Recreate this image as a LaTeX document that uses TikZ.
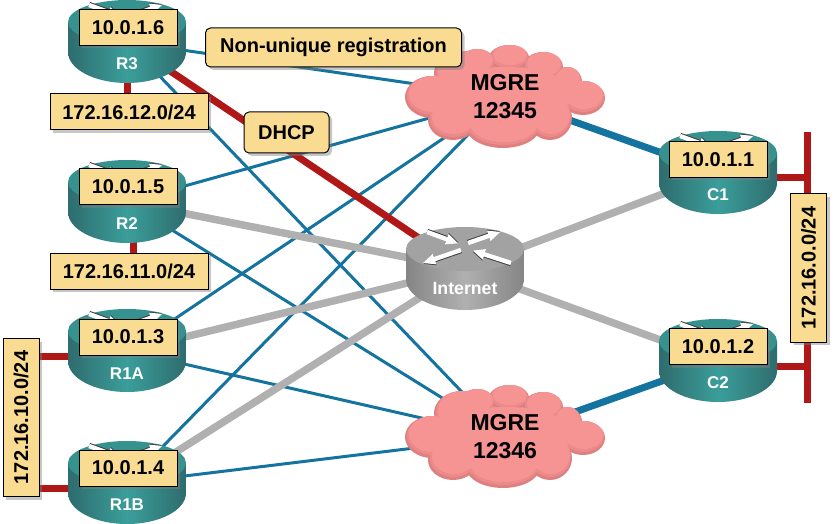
\documentclass[tikz,border=0pt]{standalone}
\usepackage{fontspec}
\setmainfont{Liberation Sans}
\usetikzlibrary{shadows,backgrounds}

\definecolor{tagfill}{HTML}{F9DC92}
\definecolor{linkblue}{HTML}{14749F}
\definecolor{linkred}{HTML}{B01818}
\definecolor{linkgray}{HTML}{B0B0B0}
\definecolor{tealdark}{HTML}{2F6C6E}
\definecolor{tealmid}{HTML}{3A9E9A}
\definecolor{tealtop}{HTML}{36928F}
\definecolor{graydark}{HTML}{858585}
\definecolor{graymid}{HTML}{B0B0B0}
\definecolor{graytop}{HTML}{A2A2A2}
\definecolor{cloudedge}{HTML}{DE8080}
\definecolor{cloudmid}{HTML}{EB8A8A}
\definecolor{cloudface}{HTML}{F69393}

\tikzset{
  tag/.style={draw=black, line width=1pt, fill=tagfill, inner sep=0pt,
    font=\fontsize{20}{24}\selectfont\bfseries,
    drop shadow={shadow xshift=3pt, shadow yshift=-3pt, opacity=.45}},
  addr/.style={tag, minimum width=98pt, minimum height=36pt},
  subnet/.style={tag, minimum width=158pt, minimum height=36pt},
  callout/.style={tag, rounded corners=5pt},
  thinblue/.style={color=linkblue, line width=3pt},
  fatblue/.style={color=linkblue, line width=7pt},
  fatgray/.style={color=linkgray, line width=7.5pt},
  fatred/.style={color=linkred, line width=7pt},
  devname/.style={text=white, font=\fontsize{17}{20}\selectfont\bfseries, inner sep=0pt}
}

% name, x, y, side dark, side middle, top
\newcommand{\routerbody}[6]{
  \coordinate (#1) at (#2,#3-20);
  \coordinate (#1port) at (#2,#3-25);
  \begin{scope}[shift={(#2,#3)}]
    \shade[left color=#4, right color=#4, middle color=#5] (-59,0) -- (-59,-30)
    arc (180:360:59 and 31) -- (59,0) -- cycle;
    \fill[color=#6] (0,0) ellipse (59 and 22);
    \foreach \ax/\ay/\al/\rot in {-38/17/33/-20, 3/6/34/19, -4/-1/40/199, 46/-14/40/162} {
      \begin{scope}[shift={(\ax,\ay)}, rotate=\rot]
        \fill[color=black!75] (0,3.2) -- (\al-12,3.2) -- (\al-12,6.5) -- (\al,1) -- (\al-12,-4.5)
        -- (\al-12,-1.2) -- (0,-1.2) -- cycle;
        \fill[color=white] (0,2.2) -- (\al-12,2.2) -- (\al-12,5.5) -- (\al,0) -- (\al-12,-5.5)
        -- (\al-12,-2.2) -- (0,-2.2) -- cycle;
      \end{scope}
    }
  \end{scope}
}

% name, x, y, first line, second line
\newcommand{\mgrecloud}[5]{
  \begin{scope}[shift={(#2,#3)}]
    \foreach \shift/\shrink/\tint in {0/0/cloudedge, 1.5/1.5/cloudmid, 3/3/cloudface} {
      \foreach \cx/\cy/\rx/\ry in {-73/0/27/21, -43/-24/28/22, -28/-34/18/14, 4/-39/20/13, 38/-30/20/15,
        62/-15/15/15, 78/1/22/17, 45/21/22/22, -2/30/37/21, -52/23/25/20, 0/0/70/30} {
        \fill[color=\tint] (\cx+.3*\shift,-\cy+\shift) ellipse [x radius=\rx-\shrink, y radius=\ry-\shrink];
      }
    }
  \end{scope}
  \node[inner sep=0pt, align=center, font=\fontsize{23}{28}\selectfont\bfseries] (#1) at (#2,#3) {#4\\#5};
}

\begin{document}
\begin{tikzpicture}[x=1pt, y=1pt]
  \useasboundingbox (0,-524) rectangle (836,0);

  \routerbody{rthree}{127}{-22}{tealdark}{tealmid}{tealtop}
  \routerbody{rtwo}{127}{-182}{tealdark}{tealmid}{tealtop}
  \routerbody{ronea}{127}{-331}{tealdark}{tealmid}{tealtop}
  \routerbody{roneb}{127}{-463}{tealdark}{tealmid}{tealtop}
  \routerbody{cone}{718}{-153}{tealdark}{tealmid}{tealtop}
  \routerbody{ctwo}{718}{-341}{tealdark}{tealmid}{tealtop}
  \routerbody{inet}{465}{-249}{graydark}{graymid}{graytop}

  \mgrecloud{mgrea}{505}{-97}{MGRE}{12345}
  \mgrecloud{mgreb}{505}{-437}{MGRE}{12346}

  \node[devname] (rthreen) at (127,-64) {R3};
  \node[devname] (rtwon) at (127,-224) {R2};
  \node[devname] (ronean) at (127,-374) {R1A};
  \node[devname] (ronebn) at (127,-505) {R1B};
  \node[devname] (conen) at (718,-195) {C1};
  \node[devname] (ctwon) at (718,-383) {C2};
  \node[devname, font=\fontsize{17.7}{20}\selectfont\bfseries] (inetn) at (465,-288) {Internet};

  \node[addr] (rthreeip) at (128,-27.5) {10.0.1.6};
  \node[addr] (rtwoip) at (128,-187) {10.0.1.5};
  \node[addr] (roneaip) at (128,-337) {10.0.1.3};
  \node[addr] (ronebip) at (128,-468) {10.0.1.4};
  \node[addr] (coneip) at (718,-159.5) {10.0.1.1};
  \node[addr] (ctwoip) at (718,-346.5) {10.0.1.2};

  \node[subnet] (nettwelve) at (129,-112) {172.16.12.0/24};
  \node[subnet] (neteleven) at (129,-271) {172.16.11.0/24};
  \node[subnet, rotate=90] (netten) at (21,-417.5) {172.16.10.0/24};
  \node[subnet, rotate=90, minimum width=148pt] (netzero) at (808.5,-268) {172.16.0.0/24};

  \node[callout, minimum width=256pt, minimum height=39pt] (nonunique) at (333.5,-47.5) {Non-unique registration};
  \node[callout, minimum width=85pt, minimum height=41pt] (dhcp) at (286.5,-132.5) {DHCP};

  \coordinate (bustop) at (807,-132);
  \coordinate (busend) at (807,-403);
  \coordinate (rtwostub) at (133,-220);

  \begin{pgfonlayer}{background}
    \draw[thinblue] (rthree) -- (mgrea.center);
    \draw[thinblue] (rthree) -- (mgreb.center);
    \draw[thinblue] (rtwo) -- (mgrea.center);
    \draw[thinblue] (rtwo) -- (mgreb.center);
    \draw[thinblue] (ronea) -- (mgrea.center);
    \draw[thinblue] (ronea) -- (mgreb.center);
    \draw[thinblue] (roneb) -- (mgrea.center);
    \draw[thinblue] (roneb) -- (mgreb.center);
    \draw[fatblue] (mgrea.center) -- (cone);
    \draw[fatblue] (mgreb.center) -- (ctwo);
    \draw[fatgray] (rtwo) -- (inet);
    \draw[fatgray] (ronea) -- (inet);
    \draw[fatgray] (roneb) -- (inet);
    \draw[fatgray] (cone) -- (inet);
    \draw[fatgray] (ctwo) -- (inet);
    \draw[fatred] (rthree) -- (inet);
    \draw[fatred] (rthree) -- (rthree |- nettwelve.center);
    \draw[fatred] (rtwostub) -- (rtwostub |- neteleven.center);
    \draw[fatred] (roneaport) -- (netten.center |- roneaport);
    \draw[fatred] (ronebport) -- (netten.center |- ronebport);
    \draw[fatred] (coneport) -- (bustop |- coneport);
    \draw[fatred] (ctwoport) -- (bustop |- ctwoport);
    \draw[fatred] (bustop) -- (busend);
  \end{pgfonlayer}
\end{tikzpicture}
\end{document}
